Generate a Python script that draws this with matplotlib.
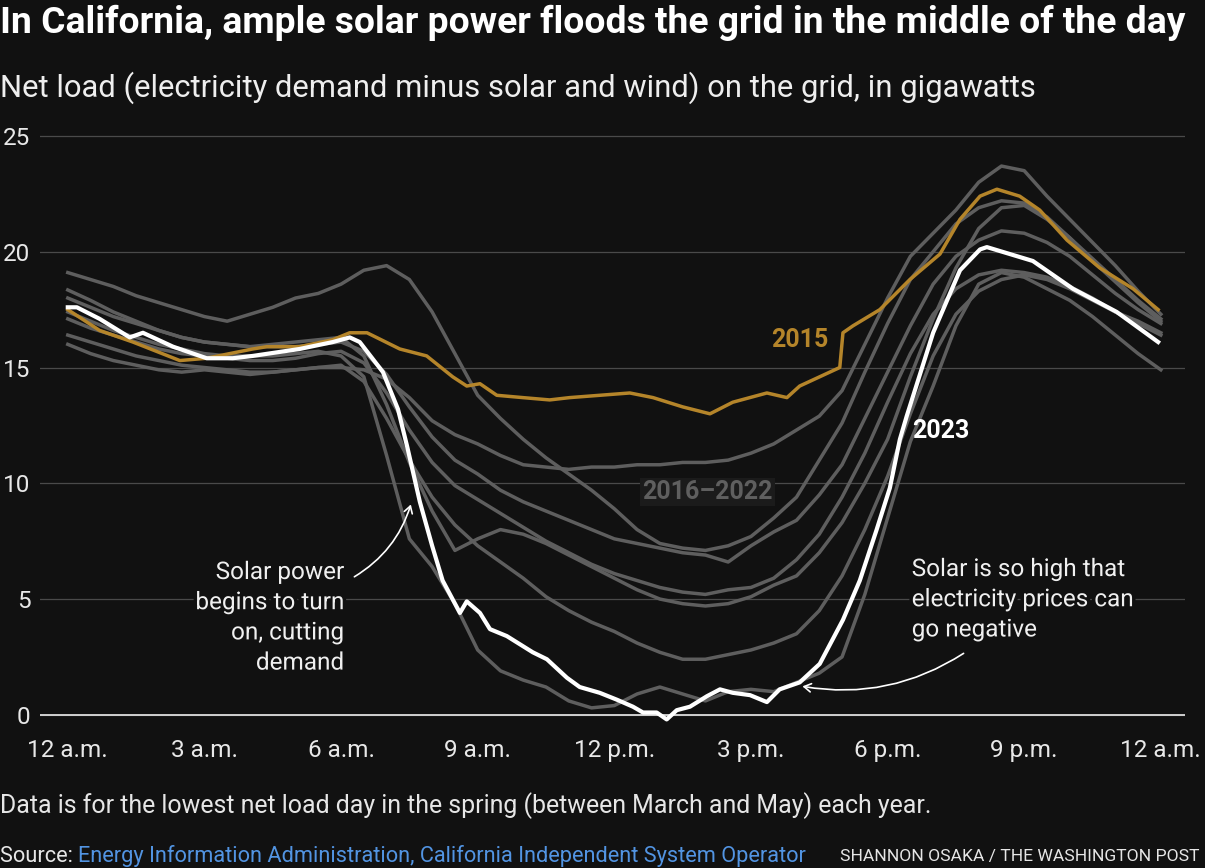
import numpy as np
import matplotlib.pyplot as plt
import matplotlib.patheffects as pe

BODY = ['Roboto', 'DejaVu Sans']
plt.rcParams['font.family'] = BODY

BG = '#111111'
GOLD = '#b5852a'
GRAY = '#5e5e5e'

# hour of day (0 = midnight) for the 2016-2022 lines
gray_hours = np.arange(0, 24.01, 0.5)

gray_2016 = [16.0, 15.6, 15.3, 15.1, 14.9, 14.8, 14.9, 14.8, 14.7, 14.8, 14.9, 15.0, 15.0,
             14.9, 14.5, 13.7, 12.7, 12.1, 11.7, 11.2, 10.8, 10.7, 10.6, 10.7, 10.7, 10.8,
             10.8, 10.9, 10.9, 11.0, 11.3, 11.7, 12.3, 12.9, 14.0, 16.0, 18.0, 19.8, 20.8,
             21.8, 23.0, 23.7, 23.5, 22.4, 21.4, 20.4, 19.4, 18.3, 17.3]
gray_2017 = [19.1, 18.8, 18.5, 18.1, 17.8, 17.5, 17.2, 17.0, 17.3, 17.6, 18.0, 18.2, 18.6,
             19.2, 19.4, 18.8, 17.4, 15.6, 13.8, 12.8, 11.9, 11.1, 10.4, 9.7, 8.9, 8.0,
             7.4, 7.2, 7.1, 7.3, 7.7, 8.5, 9.4, 11.0, 12.6, 14.8, 16.9, 18.8, 20.0,
             21.2, 21.9, 22.2, 22.1, 21.5, 20.6, 19.6, 18.7, 17.8, 17.0]
gray_2018 = [18.35, 17.9, 17.4, 17.0, 16.6, 16.3, 16.1, 16.0, 15.9, 15.9, 15.9, 16.0, 16.1,
             15.7, 14.7, 13.3, 12.0, 11.0, 10.4, 9.7, 9.2, 8.8, 8.4, 8.0, 7.6, 7.4,
             7.2, 7.0, 6.9, 6.6, 7.3, 7.9, 8.4, 9.5, 10.8, 12.8, 14.8, 16.8, 18.6,
             19.8, 20.5, 20.9, 20.8, 20.4, 19.8, 19.0, 18.2, 17.5, 16.9]
gray_2019 = [17.1, 16.7, 16.4, 16.1, 15.8, 15.6, 15.5, 15.4, 15.3, 15.3, 15.4, 15.6, 15.7,
             15.2, 13.9, 12.3, 10.9, 9.9, 9.3, 8.7, 8.1, 7.5, 7.0, 6.5, 6.1, 5.8,
             5.5, 5.3, 5.2, 5.4, 5.5, 5.9, 6.7, 7.8, 9.4, 11.3, 13.5, 15.6, 17.3,
             18.4, 19.0, 19.2, 19.1, 18.9, 18.5, 18.0, 17.4, 16.9, 16.4]
gray_2020 = [18.0, 17.6, 17.2, 16.9, 16.6, 16.3, 16.1, 16.0, 15.9, 16.0, 16.1, 16.2, 16.3,
             15.5, 13.4, 10.9, 8.8, 7.1, 7.6, 8.0, 7.8, 7.4, 6.9, 6.4, 5.9, 5.4,
             5.0, 4.8, 4.7, 4.8, 5.1, 5.6, 6.0, 7.0, 8.3, 10.0, 11.9, 14.6, 17.1,
             19.3, 21.0, 21.9, 22.0, 21.4, 20.6, 19.7, 18.8, 17.9, 17.1]
gray_2021 = [16.4, 16.1, 15.8, 15.5, 15.3, 15.1, 15.0, 14.9, 14.8, 14.8, 14.9, 15.0, 15.1,
             14.4, 12.8, 11.0, 9.4, 8.2, 7.3, 6.6, 5.9, 5.1, 4.5, 4.0, 3.6, 3.1,
             2.7, 2.4, 2.4, 2.6, 2.8, 3.1, 3.5, 4.5, 6.0, 8.0, 10.3, 13.0, 15.5,
             17.3, 18.3, 18.8, 19.0, 18.8, 18.4, 17.9, 17.4, 17.0, 16.5]
gray_2022 = [17.4, 17.0, 16.6, 16.3, 16.0, 15.8, 15.6, 15.5, 15.5, 15.5, 15.6, 15.7, 15.5,
             14.6, 11.2, 7.6, 6.4, 4.8, 2.8, 1.9, 1.5, 1.2, 0.6, 0.3, 0.4, 0.9,
             1.2, 0.9, 0.6, 1.0, 1.1, 1.0, 1.4, 1.8, 2.5, 5.2, 8.5, 11.8, 14.2,
             16.8, 18.6, 19.1, 18.9, 18.4, 17.9, 17.2, 16.4, 15.6, 14.9]
gray_years = [gray_2016, gray_2017, gray_2018, gray_2019, gray_2020, gray_2021, gray_2022]

hours_2015 = [0.0, 0.7, 1.43, 2.46, 3.05, 4.06, 4.37, 5.09, 5.82, 6.19, 6.57, 7.29, 7.88,
              8.45, 8.76, 9.05, 9.42, 9.99, 10.58, 11.02, 11.68, 12.34, 12.85, 13.5,
              14.1, 14.6, 15.35, 15.79, 16.07, 16.95, 17.02, 17.24, 17.83, 18.49, 19.15,
              19.59, 20.03, 20.4, 20.9, 21.34, 21.94, 22.66, 23.39, 23.94]
load_2015 = [17.5, 16.6, 16.1, 15.3, 15.4, 15.8, 15.9, 15.9, 16.2, 16.5, 16.5, 15.8, 15.5,
             14.6, 14.2, 14.3, 13.8, 13.7, 13.6, 13.7, 13.8, 13.9, 13.7, 13.3,
             13.0, 13.5, 13.9, 13.7, 14.2, 15.0, 16.5, 16.8, 17.5, 18.8, 19.9,
             21.4, 22.4, 22.7, 22.4, 21.8, 20.5, 19.3, 18.4, 17.5]

hours_2023 = [0.0, 0.2, 0.7, 1.36, 1.65, 2.31, 3.05, 3.62, 4.06, 5.09, 5.82, 6.19, 6.41,
              6.92, 7.25, 7.45, 7.73, 8.0, 8.23, 8.61, 8.76, 9.05, 9.27, 9.64, 10.21, 10.52,
              10.96, 11.24, 11.68, 12.06, 12.41, 12.63, 12.93, 13.15, 13.37, 13.66, 14.03,
              14.32, 14.6, 14.98, 15.35, 15.63, 16.07, 16.51, 17.02, 17.39, 17.76, 18.05,
              18.27, 18.42, 19.0, 19.59, 20.03, 20.18, 21.19, 22.07, 23.03, 23.94]
load_2023 = [17.6, 17.6, 17.1, 16.3, 16.5, 15.9, 15.4, 15.4, 15.5, 15.8, 16.1, 16.3, 16.1,
             14.8, 13.2, 11.6, 9.2, 7.3, 5.8, 4.4, 4.9, 4.4, 3.7, 3.4, 2.7, 2.4,
             1.6, 1.2, 0.95, 0.65, 0.35, 0.1, 0.1, -0.2, 0.2, 0.35, 0.8,
             1.1, 0.95, 0.85, 0.55, 1.1, 1.4, 2.2, 4.1, 5.8, 8.0, 9.8,
             11.9, 12.9, 16.5, 19.2, 20.1, 20.2, 19.6, 18.4, 17.4, 16.1]

tick_hours = [0, 3, 6, 9, 12, 15, 18, 21, 24]
tick_labels = ['12 a.m.', '3 a.m.', '6 a.m.', '9 a.m.', '12 p.m.', '3 p.m.', '6 p.m.', '9 p.m.', '12 a.m.']
y_ticks = [0, 5, 10, 15, 20, 25]

W, H = 1205, 868
fig = plt.figure(figsize=(W / 100, H / 100), dpi=100, facecolor=BG)
ax = fig.add_axes([40 / W, 0.1498, 1145 / W, 0.7069])
ax.set_facecolor(BG)
ax.set_xlim(-0.61, 24.53)
ax.set_ylim(-1.0, 25.5)

for s in ax.spines.values():
    s.set_visible(False)
ax.set_yticks(y_ticks)
ax.set_xticks(tick_hours)
ax.set_xticklabels(tick_labels)
ax.tick_params(length=0, colors='#e8e8e8', labelsize=17.5)
ax.tick_params(axis='y', pad=7)
ax.tick_params(axis='x', pad=1)
for t in ax.get_yticklabels():
    t.set_horizontalalignment('right')
ax.grid(axis='y', color='#4a4a4a', lw=0.9)
ax.set_axisbelow(True)
ax.axhline(0, color='#dcdcdc', lw=1.3, zorder=1)

for vals in gray_years:
    ax.plot(gray_hours, vals, color=GRAY, lw=2.5, solid_joinstyle='round', zorder=2)
ax.plot(hours_2015, load_2015, color=GOLD, lw=2.5, solid_joinstyle='round', zorder=3)
ax.plot(hours_2023, load_2023, color='white', lw=3.0, solid_joinstyle='round', zorder=4)

# series labels
ax.text(16.07, 16.2, '2015', color=GOLD, fontsize=18, fontweight='bold', ha='center', va='center')
ax.text(19.17, 12.26, '2023', color='white', fontsize=18, fontweight='bold', ha='center', va='center')
ax.text(14.05, 9.63, '2016\u20132022', color='#5f5f5f', fontsize=18, fontweight='bold',
        ha='center', va='center', zorder=5,
        bbox=dict(facecolor='#1b1b1b', edgecolor='none', pad=1.5))

halo = [pe.withStroke(linewidth=5, foreground=BG)]
ax.text(6.06, 4.19, 'Solar power\nbegins to turn\non, cutting\ndemand', color='#f0f0f0',
        fontsize=17.5, ha='right', va='center', linespacing=1.4, zorder=6, path_effects=halo)
ax.text(18.53, 4.97, 'Solar is so high that\nelectricity prices can\ngo negative', color='#f0f0f0',
        fontsize=17.5, ha='left', va='center', linespacing=1.4, zorder=6, path_effects=halo)

arrow = dict(arrowstyle='->,head_length=0.5,head_width=0.3', color='white', lw=1.2)
ax.annotate('', xy=(7.55, 9.2), xytext=(6.24, 5.9),
            arrowprops=dict(arrow, connectionstyle='arc3,rad=0.2'), zorder=6)
ax.annotate('', xy=(16.07, 1.25), xytext=(19.72, 2.72),
            arrowprops=dict(arrow, connectionstyle='arc3,rad=-0.2'), zorder=6)

# header and footer
fig.text(0, 1 - 33 / H, 'In California, ample solar power floods the grid in the middle of the day',
         fontweight='bold', fontsize=26.8, color='white', va='baseline')
fig.text(0, 1 - 97 / H, 'Net load (electricity demand minus solar and wind) on the grid, in gigawatts',
         fontsize=22.3, color='#eeeeee', va='baseline')
fig.text(0, 1 - 806 / H, 'Data is for the lowest net load day in the spring (between March and May) each year.',
         fontsize=17.9, color='#e6e6e6', va='center')
src = fig.text(0, 1 - 856 / H, 'Source: ', fontsize=15.7, color='#e6e6e6', va='center')
fig.canvas.draw()
bb = src.get_window_extent()
fig.text(bb.x1 / W, 1 - 856 / H,
         'Energy Information Administration, California Independent System Operator',
         fontsize=15.7, color='#5294e2', va='center')
fig.text(1200 / W, 1 - 856 / H, 'SHANNON OSAKA / THE WASHINGTON POST',
         fontsize=12.6, color='#e6e6e6', va='center', ha='right')

fig.savefig('out.png', dpi=100, facecolor=BG)
